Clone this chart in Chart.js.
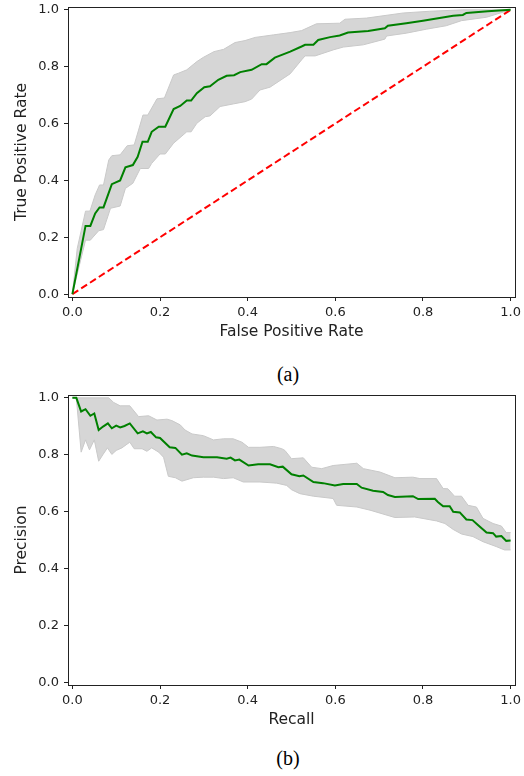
<!DOCTYPE html>
<html>
<head>
<meta charset="utf-8">
<script src="https://cdn.jsdelivr.net/npm/chart.js@4.4.1/dist/chart.umd.min.js"></script>
<style>
  body { margin: 0; background: #fff; width: 524px; height: 776px; position: relative; overflow: hidden; }
  canvas { position: absolute; left: 0; }
  #rocCanvas { top: 0; }
  #prCanvas { top: 388px; }
  .caption { position: absolute; width: 100px; left: 238px; text-align: center;
             font-family: "Liberation Serif", "DejaVu Serif", serif; font-size: 20px; color: #000; }
</style>
</head>
<body>
<canvas id="rocCanvas" width="524" height="345"></canvas>
<div class="caption" style="top: 363px;">(a)</div>
<canvas id="prCanvas" width="524" height="345"></canvas>
<div class="caption" style="top: 747px;">(b)</div>
<script>
// ROC data (a)
const rocMeanX = [0, 0.030, 0.041, 0.052, 0.062, 0.071, 0.090, 0.109, 0.121, 0.138, 0.149, 0.160, 0.172, 0.181, 0.197, 0.212, 0.231, 0.246, 0.261, 0.271, 0.284, 0.301, 0.314, 0.333, 0.352, 0.369, 0.383, 0.409, 0.432, 0.443, 0.462, 0.497, 0.523, 0.531, 0.550, 0.561, 0.588, 0.610, 0.629, 0.675, 0.713, 0.720, 0.762, 0.800, 0.838, 0.869, 0.891, 0.899, 0.948, 1.0];
const rocMeanY = [0, 0.240, 0.240, 0.284, 0.305, 0.305, 0.387, 0.400, 0.446, 0.454, 0.483, 0.536, 0.536, 0.571, 0.589, 0.589, 0.651, 0.662, 0.681, 0.681, 0.707, 0.728, 0.731, 0.754, 0.768, 0.770, 0.781, 0.789, 0.809, 0.809, 0.832, 0.853, 0.871, 0.877, 0.877, 0.894, 0.904, 0.910, 0.920, 0.926, 0.935, 0.944, 0.953, 0.962, 0.971, 0.979, 0.982, 0.989, 0.995, 1.0];
const rocUpX = [0, 0.011, 0.030, 0.040, 0.052, 0.062, 0.071, 0.083, 0.090, 0.109, 0.125, 0.141, 0.151, 0.161, 0.172, 0.193, 0.210, 0.231, 0.242, 0.261, 0.284, 0.299, 0.323, 0.345, 0.371, 0.394, 0.417, 0.459, 0.497, 0.523, 0.557, 0.610, 0.622, 0.671, 0.755, 0.815, 0.891, 1.0];
const rocUpY = [0, 0.160, 0.292, 0.292, 0.349, 0.384, 0.384, 0.472, 0.487, 0.490, 0.522, 0.525, 0.577, 0.630, 0.630, 0.687, 0.690, 0.771, 0.777, 0.789, 0.818, 0.833, 0.853, 0.861, 0.885, 0.892, 0.903, 0.912, 0.920, 0.927, 0.951, 0.953, 0.967, 0.971, 0.989, 0.995, 1.0, 1.0];
const rocLowX = [0, 0.030, 0.041, 0.060, 0.071, 0.087, 0.109, 0.121, 0.138, 0.155, 0.174, 0.181, 0.200, 0.212, 0.231, 0.261, 0.271, 0.284, 0.303, 0.314, 0.337, 0.367, 0.394, 0.409, 0.428, 0.451, 0.497, 0.523, 0.531, 0.554, 0.595, 0.618, 0.664, 0.713, 0.717, 0.762, 0.808, 0.853, 0.888, 0.945, 1.0];
const rocLowY = [0, 0.190, 0.190, 0.223, 0.227, 0.302, 0.310, 0.372, 0.390, 0.442, 0.442, 0.460, 0.493, 0.493, 0.531, 0.571, 0.571, 0.601, 0.624, 0.627, 0.660, 0.669, 0.677, 0.686, 0.718, 0.728, 0.775, 0.824, 0.838, 0.838, 0.859, 0.869, 0.877, 0.897, 0.908, 0.918, 0.932, 0.944, 0.962, 0.974, 1.0];
const chanceX = [0, 1];
const chanceY = [0, 1];

// Precision-recall data (b)
const prMeanX = [0, 0.009, 0.020, 0.030, 0.041, 0.050, 0.060, 0.070, 0.081, 0.090, 0.100, 0.109, 0.119, 0.131, 0.149, 0.161, 0.170, 0.179, 0.191, 0.200, 0.222, 0.235, 0.250, 0.261, 0.273, 0.299, 0.330, 0.352, 0.361, 0.371, 0.381, 0.402, 0.424, 0.451, 0.470, 0.480, 0.500, 0.518, 0.527, 0.550, 0.572, 0.599, 0.618, 0.649, 0.660, 0.686, 0.709, 0.720, 0.736, 0.777, 0.789, 0.827, 0.834, 0.846, 0.861, 0.869, 0.884, 0.899, 0.913, 0.926, 0.945, 0.960, 0.967, 0.979, 0.990, 1.0];
const prMeanY = [1.0, 1.0, 0.952, 0.960, 0.937, 0.945, 0.887, 0.899, 0.910, 0.893, 0.902, 0.896, 0.901, 0.910, 0.875, 0.882, 0.875, 0.880, 0.861, 0.859, 0.826, 0.824, 0.800, 0.805, 0.797, 0.791, 0.791, 0.786, 0.790, 0.780, 0.783, 0.762, 0.766, 0.766, 0.756, 0.758, 0.731, 0.724, 0.727, 0.704, 0.700, 0.692, 0.697, 0.697, 0.684, 0.673, 0.669, 0.658, 0.651, 0.654, 0.644, 0.645, 0.634, 0.619, 0.619, 0.599, 0.597, 0.572, 0.570, 0.552, 0.526, 0.524, 0.512, 0.514, 0.497, 0.498];
const prUpX = [0, 0.083, 0.094, 0.109, 0.131, 0.151, 0.174, 0.193, 0.216, 0.227, 0.246, 0.257, 0.273, 0.299, 0.322, 0.345, 0.367, 0.387, 0.402, 0.428, 0.459, 0.478, 0.485, 0.500, 0.527, 0.546, 0.569, 0.595, 0.649, 0.664, 0.702, 0.736, 0.777, 0.793, 0.831, 0.846, 0.857, 0.872, 0.888, 0.903, 0.922, 0.937, 0.960, 0.979, 0.990, 1.0];
const prUpY = [1.0, 1.0, 0.984, 0.972, 0.972, 0.934, 0.937, 0.922, 0.925, 0.920, 0.905, 0.887, 0.873, 0.867, 0.852, 0.856, 0.856, 0.844, 0.826, 0.826, 0.829, 0.821, 0.815, 0.786, 0.789, 0.756, 0.751, 0.762, 0.770, 0.751, 0.739, 0.719, 0.721, 0.716, 0.716, 0.681, 0.680, 0.654, 0.654, 0.622, 0.616, 0.576, 0.558, 0.549, 0.526, 0.526];
const prLowX = [0, 0.009, 0.020, 0.030, 0.039, 0.050, 0.060, 0.070, 0.080, 0.090, 0.100, 0.113, 0.131, 0.141, 0.159, 0.170, 0.181, 0.197, 0.208, 0.219, 0.235, 0.250, 0.276, 0.299, 0.322, 0.345, 0.367, 0.390, 0.428, 0.466, 0.489, 0.500, 0.519, 0.550, 0.595, 0.603, 0.649, 0.679, 0.736, 0.781, 0.831, 0.850, 0.869, 0.888, 0.914, 0.937, 0.967, 0.986, 1.0];
const prLowY = [1.0, 1.0, 0.809, 0.852, 0.817, 0.852, 0.777, 0.801, 0.824, 0.801, 0.815, 0.824, 0.844, 0.821, 0.821, 0.812, 0.824, 0.809, 0.791, 0.724, 0.719, 0.707, 0.719, 0.721, 0.721, 0.716, 0.719, 0.704, 0.704, 0.700, 0.692, 0.677, 0.663, 0.654, 0.646, 0.622, 0.616, 0.605, 0.579, 0.581, 0.567, 0.558, 0.537, 0.521, 0.512, 0.494, 0.477, 0.465, 0.465];

const tickValues = [0, 0.2, 0.4, 0.6, 0.8, 1.0];

// helpers
const pts = (xs, ys) => xs.map((x, i) => ({ x: x, y: ys[i] }));
const AXIS_COLOR = "#222";
const FONT = "'DejaVu Sans', sans-serif";

// draws the top and right sides of the axes box
const frameBox = {
  id: "frameBox",
  afterDraw(chart) {
    const { ctx, chartArea: a } = chart;
    ctx.save();
    ctx.strokeStyle = AXIS_COLOR;
    ctx.lineWidth = 1;
    ctx.strokeRect(Math.round(a.left) + 0.5, Math.round(a.top) + 0.5,
                   Math.round(a.right - a.left), Math.round(a.bottom - a.top));
    ctx.restore();
  }
};

function axis(title, isX) {
  return {
    type: "linear",
    min: -0.01,
    max: 1.01,
    afterBuildTicks: (s) => { s.ticks = tickValues.map(v => ({ value: v })); },
    afterFit: (s) => {
      // fixed axis box size, no extra room for edge labels
      if (isX) { s.height = 48; s.paddingLeft = 0; s.paddingRight = 0; }
      else { s.width = 68; s.paddingTop = 0; s.paddingBottom = 0; }
    },
    grid: { drawOnChartArea: false, drawTicks: true, tickLength: 4, color: AXIS_COLOR },
    border: { color: AXIS_COLOR, width: 1 },
    ticks: {
      color: "#222",
      font: { family: FONT, size: 13 },
      padding: isX ? 4 : 5,
      maxRotation: 0,
      callback: (v) => Number(v).toFixed(1)
    },
    title: {
      display: true,
      text: title,
      color: "#222",
      font: { family: FONT, size: 15.5 },
      padding: isX ? { top: 0, bottom: 4 } : { top: 13, bottom: 0 }
    }
  };
}

function makeChart(id, datasets, xTitle, yTitle) {
  return new Chart(document.getElementById(id), {
    type: "line",
    data: { datasets: datasets },
    options: {
      responsive: false,
      animation: false,
      layout: { padding: { top: 7, right: 9, left: 0, bottom: 0 } },
      elements: { point: { radius: 0 }, line: { tension: 0 } },
      plugins: { legend: { display: false }, tooltip: { enabled: false } },
      scales: { x: axis(xTitle, true), y: axis(yTitle, false) }
    },
    plugins: [frameBox]
  });
}

const meanStyle = { borderColor: "#008000", borderWidth: 2, fill: false };
const bandUp = { borderColor: "#c9c9c9", borderWidth: 1, backgroundColor: "#d6d6d6", fill: false };
const bandLow = { borderColor: "#c9c9c9", borderWidth: 1, backgroundColor: "#d6d6d6", fill: "-1" };

makeChart("rocCanvas", [
  Object.assign({ label: "Mean ROC", data: pts(rocMeanX, rocMeanY) }, meanStyle),
  { label: "Chance", data: pts(chanceX, chanceY), borderColor: "#ff0000", borderWidth: 2, borderDash: [7, 3.5], fill: false },
  Object.assign({ label: "Upper", data: pts(rocUpX, rocUpY) }, bandUp),
  Object.assign({ label: "Lower", data: pts(rocLowX, rocLowY) }, bandLow)
], "False Positive Rate", "True Positive Rate");

makeChart("prCanvas", [
  Object.assign({ label: "Mean PR", data: pts(prMeanX, prMeanY) }, meanStyle),
  Object.assign({ label: "Upper", data: pts(prUpX, prUpY) }, bandUp),
  Object.assign({ label: "Lower", data: pts(prLowX, prLowY) }, bandLow)
], "Recall", "Precision");
</script>
</body>
</html>
